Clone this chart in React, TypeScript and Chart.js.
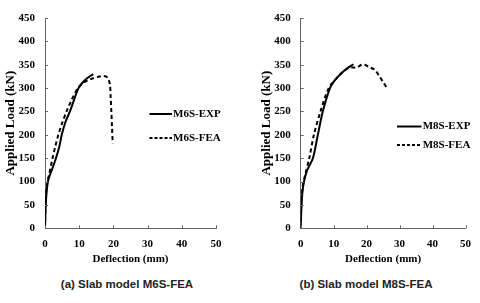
import React, { useEffect, useRef } from "react";
import { Chart, registerables } from "chart.js";

Chart.register(...registerables);

// Left panel: slab model M6S
const m6sExpDeflection = [0, 0.2, 0.5, 1, 2, 3.2, 4.2, 4.9, 6, 7.3, 8.5, 9.8, 11, 12.5, 14.1];
const m6sExpLoad = [0, 45, 80, 105, 125, 150, 175, 200, 228, 250, 275, 300, 312, 322, 330];
const m6sFeaDeflection = [0, 0.2, 0.6, 1.2, 2.2, 3.0, 3.9, 5.0, 6.3, 7.8, 9.6, 11, 12.5, 14, 15.5, 17, 17.8, 18.5, 19, 19.2, 19.4, 19.6, 19.8];
const m6sFeaLoad = [0, 60, 95, 115, 150, 175, 200, 225, 250, 275, 300, 310, 317, 321, 324, 326, 325, 320, 307, 280, 250, 215, 182];

// Right panel: slab model M8S
const m8sExpDeflection = [0, 0.2, 0.5, 1, 2, 3.7, 5.2, 6.7, 8.9, 10.5, 12.1, 14, 16];
const m8sExpLoad = [0, 40, 75, 100, 125, 150, 200, 250, 300, 318, 330, 342, 351];
const m8sFeaDeflection = [0, 0.2, 0.6, 1.2, 2.6, 4.0, 6.0, 8.5, 10.5, 12.5, 14.6, 16, 17, 18.5, 19.5, 20.5, 22.5, 23.9, 25, 26.2];
const m8sFeaLoad = [0, 55, 90, 110, 150, 200, 250, 300, 318, 333, 343, 344, 344, 350, 350, 346, 339, 325, 313, 300];

const xTickMax = 50;
const xTickStep = 10;
const yTickMax = 450;
const yTickStep = 50;

const xTitle = "Deflection (mm)";
const yTitle = "Applied Load (kN)";

const serif = "'Liberation Serif', 'Times New Roman', serif";

type Panel = {
  expLabel: string;
  feaLabel: string;
  expX: number[];
  expY: number[];
  feaX: number[];
  feaY: number[];
  caption: string;
  yAxisWidth: number;
  rightPad: number;
  yTitlePad: number;
  legendX1: number;
  legendX2: number;
  legendTextX: number;
  legendRows: number[];
};

const panels: Panel[] = [
  {
    expLabel: "M6S-EXP",
    feaLabel: "M6S-FEA",
    expX: m6sExpDeflection,
    expY: m6sExpLoad,
    feaX: m6sFeaDeflection,
    feaY: m6sFeaLoad,
    caption: "(a) Slab model M6S-FEA",
    yAxisWidth: 45,
    rightPad: 24,
    yTitlePad: 3,
    legendX1: 149.5,
    legendX2: 172,
    legendTextX: 173,
    legendRows: [114, 138],
  },
  {
    expLabel: "M8S-EXP",
    feaLabel: "M8S-FEA",
    expX: m8sExpDeflection,
    expY: m8sExpLoad,
    feaX: m8sFeaDeflection,
    feaY: m8sFeaLoad,
    caption: "(b) Slab model M8S-FEA",
    yAxisWidth: 60.7,
    rightPad: 10,
    yTitlePad: 19,
    legendX1: 157,
    legendX2: 181.5,
    legendTextX: 182.7,
    legendRows: [126.5, 145],
  },
];

const W = 240;
const H = 272;

function ChartPanel({ p }: { p: Panel }) {
  const ref = useRef<HTMLCanvasElement | null>(null);
  useEffect(() => {
    if (!ref.current) return;
    const toPts = (xs: number[], ys: number[]) => xs.map((x, i) => ({ x, y: ys[i] }));
    const inwardTicks = {
      id: "inwardTicks",
      afterDraw(chart: any) {
        const { ctx, chartArea, scales } = chart;
        ctx.save();
        ctx.strokeStyle = "#666";
        ctx.lineWidth = 1;
        ctx.beginPath();
        scales.y.ticks.forEach((t: any) => {
          const y = Math.round(scales.y.getPixelForValue(t.value)) + 0.5;
          ctx.moveTo(chartArea.left, y);
          ctx.lineTo(chartArea.left + 3, y);
        });
        scales.x.ticks.forEach((t: any) => {
          const x = Math.round(scales.x.getPixelForValue(t.value)) + 0.5;
          ctx.moveTo(x, chartArea.bottom);
          ctx.lineTo(x, chartArea.bottom - 3);
        });
        ctx.stroke();
        // legend
        const items = [
          { label: p.expLabel, dash: [] as number[] },
          { label: p.feaLabel, dash: [3, 2] },
        ];
        items.forEach((it, i) => {
          const y = p.legendRows[i];
          ctx.strokeStyle = "#000";
          ctx.lineWidth = 2;
          ctx.setLineDash(it.dash);
          ctx.beginPath();
          ctx.moveTo(p.legendX1, y);
          ctx.lineTo(p.legendX2, y);
          ctx.stroke();
          ctx.setLineDash([]);
          ctx.fillStyle = "#000";
          ctx.font = `bold 11px ${serif}`;
          ctx.textAlign = "left";
          ctx.textBaseline = "middle";
          ctx.fillText(it.label, p.legendTextX, y);
        });
        ctx.restore();
      },
    };
    const chart = new Chart(ref.current, {
      type: "scatter",
      data: {
        datasets: [
          {
            label: p.expLabel,
            data: toPts(p.expX, p.expY),
            showLine: true,
            borderColor: "#000",
            borderWidth: 2,
            pointRadius: 0,
            tension: 0.3,
          },
          {
            label: p.feaLabel,
            data: toPts(p.feaX, p.feaY),
            showLine: true,
            borderColor: "#000",
            borderWidth: 2,
            borderDash: [4, 3],
            pointRadius: 0,
            tension: 0.3,
          },
        ],
      },
      options: {
        responsive: false,
        animation: false,
        layout: { padding: { top: 18, left: 0, right: p.rightPad, bottom: 0 } },
        plugins: { legend: { display: false }, tooltip: { enabled: false } },
        scales: {
          x: {
            type: "linear",
            min: 0,
            max: xTickMax,
            ticks: { stepSize: xTickStep, padding: 9, color: "#000", maxRotation: 0, font: { family: serif, size: 11, weight: "bold" } },
            grid: { drawOnChartArea: false, drawTicks: false },
            border: { display: true, color: "#666", width: 1 },
            title: { display: true, text: xTitle, color: "#000", padding: { top: 0, bottom: 6 }, font: { family: serif, size: 11, weight: "bold" } },
            afterFit: (s: any) => {
              s.height = H - 228.3;
            },
          },
          y: {
            min: 0,
            max: yTickMax,
            ticks: { stepSize: yTickStep, padding: 10, color: "#000", font: { family: serif, size: 11, weight: "bold" } },
            grid: { drawOnChartArea: false, drawTicks: false },
            border: { display: true, color: "#666", width: 1 },
            title: { display: true, text: yTitle, color: "#000", padding: { top: p.yTitlePad, bottom: 0 }, font: { family: serif, size: 13, weight: "bold" } },
            afterFit: (s: any) => {
              s.width = p.yAxisWidth;
            },
          },
        },
      },
      plugins: [inwardTicks],
    });
    return () => chart.destroy();
  }, [p]);
  return <canvas ref={ref} width={W} height={H} style={{ display: "block", width: W, height: H }} />;
}

export default function App() {
  return (
    <div style={{ position: "absolute", left: 0, top: 0, width: 480, height: 303, background: "#fff" }}>
      {panels.map((p, i) => (
        <div key={i} style={{ position: "absolute", left: i * 240, top: 0, width: 240, height: 303 }}>
          <ChartPanel p={p} />
          <div
            style={{
              position: "absolute",
              left: i === 0 ? -3 : -4,
              top: 276,
              width: 260,
              textAlign: "center",
              fontFamily: "'Liberation Sans', Arial, sans-serif",
              fontSize: 11.5,
              fontWeight: "bold",
              lineHeight: "16px",
              color: "#222",
            }}
          >
            {p.caption}
          </div>
        </div>
      ))}
    </div>
  );
}
